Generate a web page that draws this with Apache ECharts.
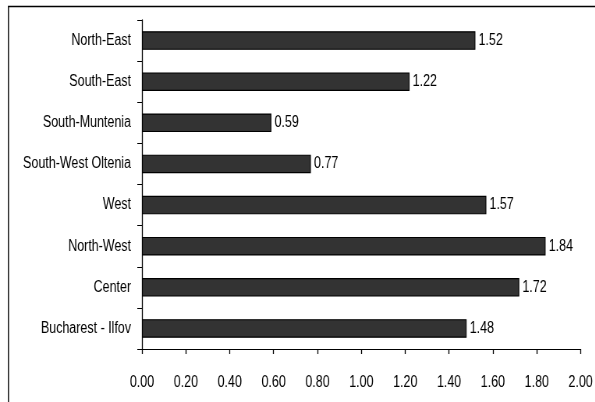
<!DOCTYPE html>
<html>
<head>
<meta charset="utf-8">
<script src="https://cdn.jsdelivr.net/npm/echarts@6/dist/echarts.min.js"></script>
<style>
  html, body { margin: 0; padding: 0; background: #fff; overflow: hidden; }
  #wrap { width: 595px; height: 402px; overflow: hidden; }
  /* The chart is laid out wide and squeezed horizontally to get a condensed type look */
  #chart { width: 763px; height: 402px; transform: scaleX(0.78); transform-origin: 0 0; }
</style>
</head>
<body>
<div id="wrap"><div id="chart"></div></div>
<script>
// Regions, listed top to bottom
const regions = ['North-East', 'South-East', 'South-Muntenia', 'South-West Oltenia', 'West', 'North-West', 'Center', 'Bucharest - Ilfov'];
const values = [1.52, 1.22, 0.59, 0.77, 1.57, 1.84, 1.72, 1.48];
const xTicks = [0, 0.2, 0.4, 0.6, 0.8, 1.0, 1.2, 1.4, 1.6, 1.8, 2.0];

const font = '"Liberation Sans", Arial, sans-serif';

const chart = echarts.init(document.getElementById('chart'), null, { renderer: 'canvas' });
chart.setOption({
  animation: false,
  backgroundColor: '#fff',
  graphic: [{
    type: 'rect',
    shape: { x: 10.8, y: 6.5, width: 900, height: 500 },
    style: { fill: 'none', stroke: '#000', lineWidth: 1.4 },
    silent: true
  }],
  grid: { left: 182, right: 18, top: 20, bottom: 53, containLabel: false },
  xAxis: {
    type: 'value',
    min: xTicks[0],
    max: xTicks[xTicks.length - 1],
    interval: 0.2,
    axisLine: { show: true, lineStyle: { color: '#000', width: 1 } },
    axisTick: { show: true, length: 5, inside: false, lineStyle: { color: '#000', width: 1.3 } },
    splitLine: { show: false },
    axisLabel: {
      color: '#000', fontFamily: font, fontSize: 16, margin: 26,
      formatter: v => v.toFixed(2)
    }
  },
  yAxis: {
    type: 'category',
    data: regions,
    inverse: true,
    axisLine: { show: true, lineStyle: { color: '#000', width: 1.3 } },
    axisTick: { show: true, length: 6, lineStyle: { color: '#000', width: 1 } },
    axisLabel: { color: '#000', fontFamily: font, fontSize: 16, margin: 14 }
  },
  series: [{
    type: 'bar',
    data: values,
    barCategoryGap: '55%',
    itemStyle: { color: '#333333', borderColor: '#000', borderWidth: 1.1 },
    label: {
      show: true, position: 'right', distance: 4,
      color: '#000', fontFamily: font, fontSize: 16,
      formatter: p => p.value.toFixed(2)
    }
  }]
});
</script>
</body>
</html>
